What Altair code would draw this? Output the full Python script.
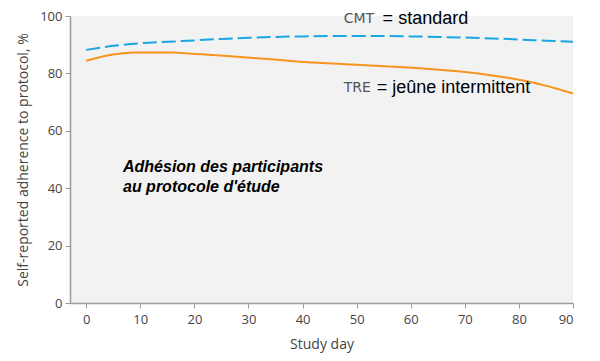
import altair as alt
import pandas as pd

days = [0, 5, 10, 15, 20, 25, 30, 35, 40, 45, 50, 55, 60, 65, 70, 75, 80, 85, 90]
cmt = [88.2, 89.6, 90.5, 91.0, 91.5, 92.0, 92.4, 92.7, 92.9, 93.0, 93.0, 93.0, 92.9, 92.7, 92.5, 92.2, 91.8, 91.4, 91.0]
tre = [84.4, 86.6, 87.3, 87.3, 86.8, 86.2, 85.5, 84.8, 84.0, 83.5, 83.0, 82.5, 82.0, 81.3, 80.5, 79.3, 77.8, 75.7, 73.0]

df = pd.DataFrame({
    "day": days * 2,
    "val": cmt + tre,
    "grp": ["CMT"] * len(days) + ["TRE"] * len(days),
})

x = alt.X("day:Q", scale=alt.Scale(domain=[-3, 90], nice=False, zero=False),
          axis=alt.Axis(values=list(range(0, 91, 10)), title="Study day"))
y = alt.Y("val:Q", scale=alt.Scale(domain=[0, 100], nice=False),
          axis=alt.Axis(values=list(range(0, 101, 20)), title="Self-reported adherence to protocol, %"))

lines = alt.Chart(df).mark_line(strokeWidth=2, interpolate="monotone").encode(
    x=x, y=y,
    color=alt.Color("grp:N", scale=alt.Scale(domain=["CMT", "TRE"], range=["#1aa6e4", "#f7941d"]), legend=None),
    strokeDash=alt.StrokeDash("grp:N", scale=alt.Scale(domain=["CMT", "TRE"], range=[[14, 5], [1, 0]]), legend=None),
)

def txt(tx, ty, s, **kw):
    return alt.Chart(pd.DataFrame({"x": [tx], "y": [ty], "t": [s]})).mark_text(align="left", baseline="middle", **kw).encode(
        x=alt.X("x:Q"), y=alt.Y("y:Q"), text="t:N")

labels = [
    txt(47.6, 99.0, "CMT", font="DejaVu Sans", fontSize=14, color="#555555"),
    txt(54.8, 99.0, "= standard", font="Liberation Sans", fontSize=18, color="#000000"),
    txt(47.6, 74.9, "TRE", font="DejaVu Sans", fontSize=14, color="#555555"),
    txt(53.7, 74.9, "= jeûne intermittent", font="Liberation Sans", fontSize=18, color="#000000"),
    txt(6.8, 47.5, "Adhésion des participants", font="Liberation Sans", fontSize=16, fontWeight="bold", fontStyle="italic", color="#000000"),
    txt(6.8, 40.5, "au protocole d'étude", font="Liberation Sans", fontSize=16, fontWeight="bold", fontStyle="italic", color="#000000"),
]

chart = alt.layer(lines, *labels).properties(
    width=503, height=287,
    autosize=alt.AutoSizeParams(type="none"),
    padding={"left": 62, "top": 8, "right": 19, "bottom": 50},
).configure_view(
    fill="#f2f2f2", stroke=None
).configure_axis(
    grid=False,
    domainColor="#9a9a9a", domainWidth=1.5,
    tickColor="#9a9a9a", tickSize=5,
    labelFont="Open Sans", labelFontSize=13, labelColor="#444444",
    titleFont="Open Sans", titleFontSize=14, titleColor="#444444", titleFontWeight="normal",
).configure_axisY(titlePadding=9, labelPadding=3).configure_axisX(titlePadding=11, labelPadding=5)

chart.save("out.html", embed_options={"renderer": "svg", "actions": False})
